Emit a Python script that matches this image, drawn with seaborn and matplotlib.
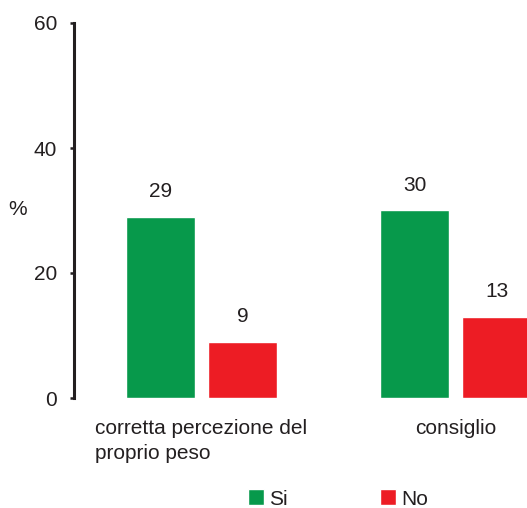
import matplotlib

matplotlib.use("Agg")
import matplotlib.pyplot as plt
import pandas as pd
import seaborn as sns

# valori (%)
categorie = ["corretta percezione del\nproprio peso", "consiglio"]
risposte = ["Si", "No"]
valori_si = [29, 30]
valori_no = [9, 13]
colori = ["#07994B", "#ED1C24"]

df = pd.DataFrame(
    {
        "categoria": categorie * 2,
        "risposta": [risposte[0]] * len(categorie) + [risposte[1]] * len(categorie),
        "valore": valori_si + valori_no,
    }
)

sns.set_style("white")
plt.rcParams["font.family"] = ["Liberation Sans", "DejaVu Sans"]
FS = 15

fig = plt.figure(figsize=(5.27, 5.08), dpi=100)
ax = fig.add_axes([74 / 527, 110 / 508, 1 - 74 / 527, 375 / 508])

sns.barplot(
    data=df, x="categoria", y="valore", hue="risposta",
    order=categorie, hue_order=risposte, palette=colori,
    width=0.646, gap=0.16, saturation=1, ax=ax,
)

for cont in ax.containers:
    ax.bar_label(cont, fmt="%g", padding=11, fontsize=FS, color="#231F20")

ax.set_ylim(0, 60)
ax.set_xlim(-0.502, 1.281)
ax.set_yticks([0, 20, 40, 60])
ax.set_xlabel("")
ax.set_ylabel("")
for s in ["top", "right", "bottom"]:
    ax.spines[s].set_visible(False)
ax.spines["left"].set_linewidth(2.2)
ax.spines["left"].set_color("#231F20")
ax.tick_params(axis="y", length=3, width=1.8, color="#231F20", pad=9,
               labelsize=FS, labelcolor="#231F20", left=True)
ax.tick_params(axis="x", length=0, pad=15, labelsize=FS, labelcolor="#231F20")
for lab in ax.get_xticklabels():
    lab.set_multialignment("left")
    lab.set_linespacing(1.4)

fig.text(18 / 527, 1 - 210 / 508, "%", fontsize=FS, color="#231F20",
         ha="center", va="center")

handles, labels = ax.get_legend_handles_labels()
ax.get_legend().remove()
fig.legend(handles, labels, loc="center", bbox_to_anchor=(338 / 527, 1 - 499 / 508),
           ncol=2, frameon=False, fontsize=FS, handlelength=0.8, handleheight=0.8,
           handletextpad=0.25, columnspacing=4.4, labelcolor="#231F20")

fig.savefig("out.png", dpi=100)
